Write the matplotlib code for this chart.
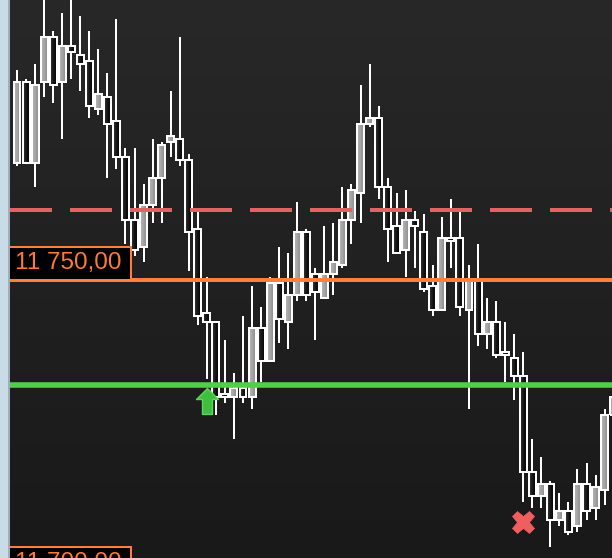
import numpy as np
import matplotlib
matplotlib.use("Agg")
import matplotlib.pyplot as plt
from matplotlib.patches import Rectangle
from matplotlib.colors import LinearSegmentedColormap
from matplotlib.path import Path

# ---------------- data ----------------
opens = [11769.5, 11783, 11769.5, 11783, 11790.5, 11783, 11789, 11787.5, 11786.5, 11778.5,
         11780.5, 11776.5, 11770.5, 11760, 11755.5, 11762.5, 11767, 11773, 11773.5, 11770,
         11758.5, 11744.5, 11743, 11731, 11730.5, 11732, 11730.5, 11742, 11736.5, 11749.5,
         11743, 11747.5, 11758, 11751, 11747, 11751, 11752.5, 11760, 11764.5, 11776,
         11777, 11765.5, 11759, 11755, 11760, 11758, 11749, 11745, 11757, 11757,
         11745, 11750, 11741, 11743, 11738, 11737, 11734, 11718, 11714, 11716,
         11710, 11711.5, 11709, 11716, 11712, 11715, 11727.5]
highs = [11785, 11783.5, 11786, 11798, 11791.5, 11794.5, 11798, 11794, 11791.5, 11788.5,
         11784.5, 11793.5, 11772, 11772, 11766, 11773.5, 11773, 11781.5, 11790.5, 11771,
         11761.5, 11750.5, 11743, 11740, 11734.5, 11744, 11749, 11745.5, 11750.5, 11755.5,
         11754.5, 11763, 11758.5, 11752, 11759, 11759.5, 11765.5, 11766, 11782.5, 11786,
         11779, 11767, 11764.5, 11765, 11761.5, 11761, 11752.5, 11760.5, 11763.5, 11761.5,
         11752.5, 11756, 11747, 11746.5, 11743, 11741, 11738, 11723.5, 11720.5, 11716.5,
         11714.5, 11713, 11718.5, 11719.5, 11717.5, 11728.5, 11731]
lows = [11769, 11769.5, 11765.5, 11780.5, 11779.5, 11773.5, 11783.5, 11781.5, 11777, 11777.5,
        11767, 11768.5, 11756, 11754, 11753, 11759.5, 11759.5, 11770.5, 11769, 11751.5,
        11742.5, 11733.5, 11727.5, 11729.5, 11723.5, 11729.5, 11728.5, 11733, 11736.5, 11739.5,
        11738.5, 11746.5, 11746.5, 11740, 11747, 11747.5, 11752, 11756, 11759.5, 11775.5,
        11763.5, 11753, 11754.5, 11750.5, 11752, 11748, 11744, 11745, 11752, 11744,
        11728.5, 11739, 11738.5, 11737, 11733, 11730, 11713, 11712, 11712, 11705.5,
        11709, 11707.5, 11708, 11710, 11710, 11712.5, 11727.5]
closes = [11783, 11769.5, 11782.5, 11790.5, 11782.5, 11789, 11788, 11786, 11779, 11781,
          11776, 11770.5, 11760, 11755, 11762.5, 11767, 11772.5, 11774, 11770, 11758,
          11744, 11743, 11730.5, 11730.5, 11732, 11730.5, 11742, 11736.5, 11749.5, 11743.5,
          11747.5, 11758, 11747.5, 11748, 11751, 11753, 11760, 11765, 11776, 11777,
          11765.5, 11758.5, 11754.5, 11760, 11759, 11748.5, 11745, 11757, 11756.5, 11745.5,
          11750, 11741, 11743, 11737.5, 11737.5, 11734, 11718, 11714, 11716, 11710,
          11711.5, 11708, 11716, 11711.5, 11715.5, 11727.5, 11730.5]

resistance_level = 11761.67          # red dashed line
marked_level = 11750.0               # orange line with price label
support_level = 11732.5              # green line
lower_label_level = 11700.0          # second price label (cut off at bottom)
buy_signal = (21, 11729.8)           # green arrow (candle index, price)
sell_signal = (56, 11709.7)          # red cross (candle index, price)

# ---------------- layout ----------------
W, H = 612, 558
PX = 9.04      # pixels per candle
PY = 6.0       # pixels per price point
fig = plt.figure(figsize=(W / 100, H / 100), dpi=100)
ax = fig.add_axes([0, 0, 1, 1])
x0 = -17 / PX
ytop = marked_level + 280 / PY
xlim = (x0, x0 + W / PX)
ylim = (ytop - H / PY, ytop)

# background gradient
bg = LinearSegmentedColormap.from_list("bg", ["#282828", "#191919"])
ax.imshow(np.linspace(0, 1, 256).reshape(-1, 1), cmap=bg, aspect="auto",
          extent=[xlim[0], xlim[1], ylim[0], ylim[1]], zorder=0, origin="upper")

gray_cm = LinearSegmentedColormap.from_list("g", ["#b8b8b8", "#a4a4a4", "#8c8c8c"])
dark_cm = LinearSegmentedColormap.from_list("d", ["#3a3a3a", "#161616", "#050505"])
grad = np.linspace(0, 1, 32).reshape(1, -1)

lw = 1.44  # 2 px
bw = 0.77
for i, (o, h, l, c) in enumerate(zip(opens, highs, lows, closes)):
    ax.plot([i, i], [l, h], color="white", lw=lw, solid_capstyle="butt", zorder=2)
    lo, hi = min(o, c), max(o, c)
    if hi - lo < 0.2:
        hi = lo + 0.2
    cm = gray_cm if c >= o else dark_cm
    ax.imshow(grad, cmap=cm, aspect="auto", extent=[i - bw / 2, i + bw / 2, lo, hi],
              zorder=3, interpolation="bilinear")
    ax.add_patch(Rectangle((i - bw / 2, lo), bw, hi - lo, facecolor="none",
                           edgecolor="white", lw=lw, zorder=4))

# horizontal levels
xs = x0 + 10 / PX
ax.hlines(resistance_level, xs, xlim[1], color="#e06464", lw=2.88,
          linestyles=(0, (10.5, 4.5)), zorder=6)
ax.hlines(marked_level, xs, xlim[1], color="#ff7f3f", lw=2.88, zorder=6)
ax.hlines(support_level, xs, xlim[1], color="#4ecf4e", lw=4.0, zorder=6)


def fmt(v):
    return f"{v:,.2f}".replace(",", " ").replace(".", ",")


for lvl in (marked_level, lower_label_level):
    ax.add_patch(Rectangle((x0 + 9 / PX, lvl), 121.5 / PX, 33 / PY, facecolor="black",
                           edgecolor="#ff7f3f", lw=lw, zorder=7))
    ax.text(x0 + 15 / PX, lvl + 16.5 / PY, fmt(lvl), color="#ff7a35", fontsize=17.5,
            family=["Liberation Sans", "DejaVu Sans"], va="center", ha="left", zorder=8)

# signals
arrow = Path([(0, 13), (11, 2), (5, 2), (5, -13), (-5, -13), (-5, 2), (-11, 2), (0, 13)],
             [Path.MOVETO] + [Path.LINETO] * 6 + [Path.CLOSEPOLY])
ax.plot([buy_signal[0]], [buy_signal[1]], marker=arrow, ms=18.7, color="#3fbf3f",
        mec="#5ad85a", mew=1.0, zorder=9, linestyle="none")
ax.plot([sell_signal[0]], [sell_signal[1]], marker="X", ms=16, color="#f05f5f",
        mec="#f05f5f", mew=0.5, zorder=9, linestyle="none")

ax.set_xlim(*xlim)
ax.set_ylim(*ylim)
ax.axis("off")

# left side panel
fig.add_artist(Rectangle((0, 0), 8 / W, 1, transform=fig.transFigure,
                         facecolor="#c9dbe6", edgecolor="none", zorder=20))
fig.add_artist(Rectangle((8 / W, 0), 2 / W, 1, transform=fig.transFigure,
                         facecolor="#9eafba", edgecolor="none", zorder=20))

fig.savefig("out.png", dpi=100, facecolor="#1e1e1e")
